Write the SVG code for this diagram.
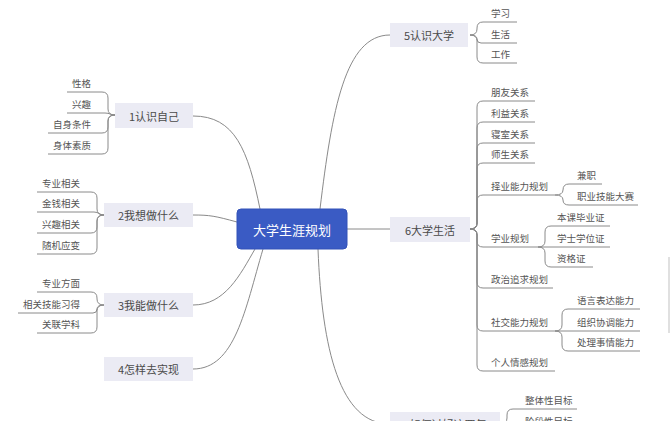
<svg xmlns="http://www.w3.org/2000/svg" width="672" height="421" viewBox="0 0 672 421">
<style>
text{font-family:"Noto Sans CJK SC","Liberation Sans",sans-serif;dominant-baseline:central}
.topic rect{fill:#ebebf4}
.topic text{font-size:11px;fill:#4a4a4a;text-anchor:middle}
.leaf{font-size:9.5px;fill:#555}
.r{text-anchor:end}
#connectors path{fill:none;stroke:#8a8a8a;stroke-width:1}
</style>
<rect width="672" height="421" fill="#fff"/>
<g id="connectors">
<path d="M260,209 C248,150 235,116 193,116"/>
<path d="M237,222 C215,216 210,215 193,215"/>
<path d="M255,249 C240,275 225,305 193,305"/>
<path d="M263,249 C245,310 235,369 193,369"/>
<path d="M320,209 C332,110 345,35 390,35"/>
<path d="M347,229 H390"/>
<path d="M318,249 C322,350 340,424 390,424"/>
<!-- 1 leaves -->
<path d="M115,115 Q108,115 108,109 V98 Q108,92 102,92 H67"/>
<path d="M115,115 C110,115 110,113 105,113 H67"/>
<path d="M115,115 Q108,115 108,121 V127 Q108,133 102,133 H48"/>
<path d="M115,115 Q108,115 108,121 V148 Q108,154 102,154 H48"/>
<!-- 2 leaves -->
<path d="M104,215 Q97,215 97,209 V198 Q97,192 91,192 H37"/>
<path d="M104,215 C99,215 99,212 94,212 H37"/>
<path d="M104,215 Q97,215 97,221 V227 Q97,233 91,233 H37"/>
<path d="M104,215 Q97,215 97,221 V248 Q97,254 91,254 H37"/>
<!-- 3 leaves -->
<path d="M104,305 Q97,305 97,299 V298 Q97,292 91,292 H37"/>
<path d="M104,305 Q97,305 97,309 Q97,313 93,313 H18"/>
<path d="M104,305 Q97,305 97,311 V327 Q97,333 91,333 H37"/>
<!-- 5 leaves -->
<path d="M470,35 Q477,35 477,29 V28 Q477,22 483,22 H517"/>
<path d="M470,35 Q477,35 477,39 Q477,43 481,43 H517"/>
<path d="M470,35 Q477,35 477,41 V57 Q477,63 483,63 H517"/>
<!-- 6 leaves -->
<path d="M470,229 Q477,229 477,223 V107 Q477,101 483,101 H535"/>
<path d="M470,229 Q477,229 477,223 V128 Q477,122 483,122 H535"/>
<path d="M470,229 Q477,229 477,223 V149 Q477,143 483,143 H535"/>
<path d="M470,229 Q477,229 477,223 V169 Q477,163 483,163 H535"/>
<path d="M470,229 Q477,229 477,223 V201 Q477,195 483,195 H555"/>
<path d="M470,229 Q477,229 477,235 V241 Q477,247 483,247 H538"/>
<path d="M470,229 Q477,229 477,235 V282 Q477,288 483,288 H553"/>
<path d="M470,229 Q477,229 477,235 V325 Q477,331 483,331 H555"/>
<path d="M470,229 Q477,229 477,235 V365 Q477,371 483,371 H555"/>
<!-- 择业 leaves -->
<path d="M555,195 Q563,195 563,190 Q563,184 569,184 H602"/>
<path d="M555,195 Q563,195 563,200 Q563,205 569,205 H638"/>
<!-- 学业 leaves -->
<path d="M538,247 Q545,247 545,241 V232 Q545,226 551,226 H610"/>
<path d="M538,247 H610"/>
<path d="M538,247 Q545,247 545,253 V261 Q545,267 551,267 H593"/>
<!-- 社交 leaves -->
<path d="M555,331 Q562,331 562,325 V315 Q562,309 568,309 H640"/>
<path d="M555,331 H640"/>
<path d="M555,331 Q562,331 562,337 V345 Q562,351 568,351 H640"/>
<!-- 7 leaves -->
<path d="M500,424 Q507,424 507,418 V415 Q507,409 513,409 H577"/>
<path d="M500,424 Q507,424 507,427 Q507,430 511,430 H577"/>
</g>
<g id="center">
<rect x="237" y="209" width="110" height="40" rx="4" fill="#3a5bc4" stroke="#3352b8"/>
<text x="292" y="229" font-size="13" fill="#fff" text-anchor="middle">大学生涯规划</text>
</g>
<g id="t1" class="topic"><rect x="115" y="103" width="78" height="25"/><text x="154" y="115.5">1认识自己</text></g>
<g id="t2" class="topic"><rect x="104" y="203" width="89" height="24"/><text x="148.5" y="215">2我想做什么</text></g>
<g id="t3" class="topic"><rect x="104" y="293" width="89" height="24"/><text x="148.5" y="305">3我能做什么</text></g>
<g id="t4" class="topic"><rect x="104" y="357" width="89" height="24"/><text x="148.5" y="369">4怎样去实现</text></g>
<g id="t5" class="topic"><rect x="390" y="23" width="78" height="24"/><text x="429" y="35">5认识大学</text></g>
<g id="t6" class="topic"><rect x="390" y="217" width="80" height="25"/><text x="430" y="229.5">6大学生活</text></g>
<g id="t7" class="topic"><rect x="390" y="412" width="110" height="24"/><text x="445" y="424">7如何过好这四年</text></g>
<g id="leaves1">
<text class="leaf r" x="91" y="83">性格</text>
<text class="leaf r" x="91" y="104">兴趣</text>
<text class="leaf r" x="91" y="124">自身条件</text>
<text class="leaf r" x="91" y="145">身体素质</text>
</g>
<g id="leaves2">
<text class="leaf r" x="80" y="183">专业相关</text>
<text class="leaf r" x="80" y="203">金钱相关</text>
<text class="leaf r" x="80" y="224">兴趣相关</text>
<text class="leaf r" x="80" y="245">随机应变</text>
</g>
<g id="leaves3">
<text class="leaf r" x="80" y="283">专业方面</text>
<text class="leaf r" x="80" y="304">相关技能习得</text>
<text class="leaf r" x="80" y="324">关联学科</text>
</g>
<g id="leaves5">
<text class="leaf" x="491" y="13">学习</text>
<text class="leaf" x="491" y="34">生活</text>
<text class="leaf" x="491" y="54">工作</text>
</g>
<g id="leaves6">
<text class="leaf" x="491" y="92">朋友关系</text>
<text class="leaf" x="491" y="113">利益关系</text>
<text class="leaf" x="491" y="134">寝室关系</text>
<text class="leaf" x="491" y="154">师生关系</text>
<text class="leaf" x="491" y="186">择业能力规划</text>
<text class="leaf" x="491" y="238">学业规划</text>
<text class="leaf" x="491" y="279">政治追求规划</text>
<text class="leaf" x="491" y="322">社交能力规划</text>
<text class="leaf" x="491" y="362">个人情感规划</text>
</g>
<g id="leaves6sub">
<text class="leaf" x="577" y="175">兼职</text>
<text class="leaf" x="577" y="196">职业技能大赛</text>
<text class="leaf" x="557" y="217">本课毕业证</text>
<text class="leaf" x="557" y="238">学士学位证</text>
<text class="leaf" x="557" y="258">资格证</text>
<text class="leaf" x="577" y="300">语言表达能力</text>
<text class="leaf" x="577" y="322">组织协调能力</text>
<text class="leaf" x="577" y="342">处理事情能力</text>
</g>
<g id="leaves7">
<text class="leaf" x="525" y="400">整体性目标</text>
<text class="leaf" x="525" y="421">阶段性目标</text>
</g>
<line x1="669" y1="257" x2="669" y2="333" stroke="#e0e0e0" stroke-width="2"/>
</svg>
